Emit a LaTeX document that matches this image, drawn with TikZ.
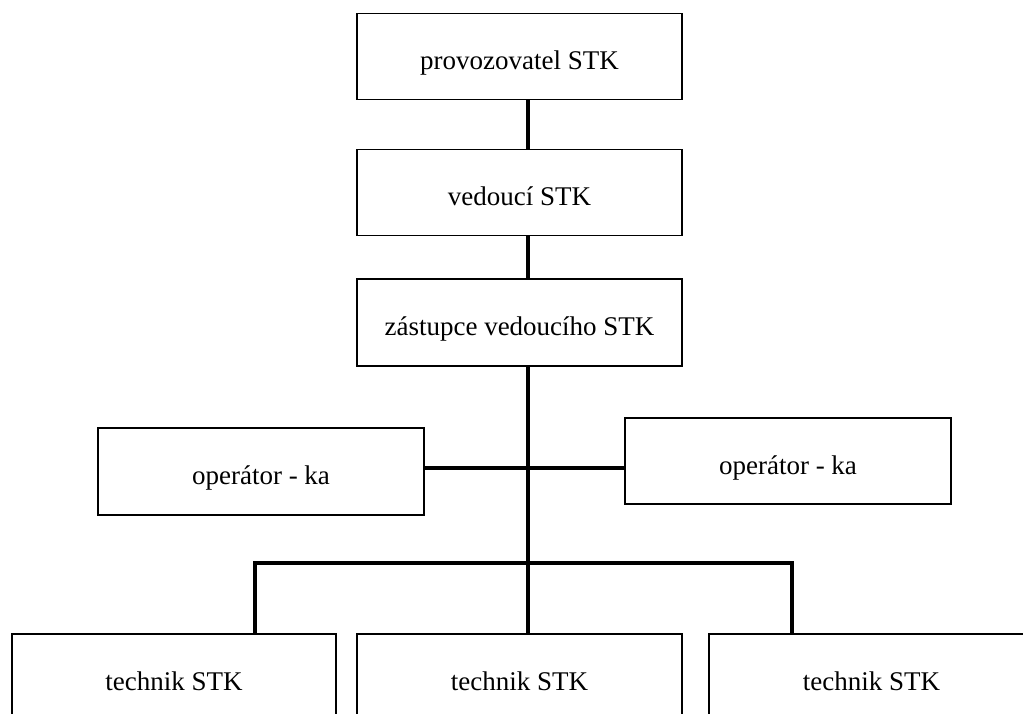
\documentclass[tikz,border=0pt]{standalone}
\usepackage{fontspec}
\setmainfont{Liberation Serif}
\tikzset{box/.style={draw, line width=1.3pt, minimum width=325pt, minimum height=86pt,
    inner sep=0pt, text height=26pt, text depth=0pt, font=\fontsize{27}{31}\selectfont}}
\tikzset{link/.style={line width=3.6pt}}

\begin{document}
\begin{tikzpicture}[x=1pt, y=-1pt]

  \clip (0, 0) rectangle (1023, 713);

  \newcommand\XS{528};
  \newcommand\YBAR{468};
  \newcommand\YFORK{563};

  % chain at the top
  \node[box] (prov) at (519.5, 56.5) {provozovatel STK};
  \node[box] (ved)  at (519.5, 192.5) {vedouc\'i STK};
  \node[box, minimum height=87pt] (zast) at (519.5, 322.5) {z\'astupce vedouc\'iho STK};

  % side boxes
  \node[box, minimum width=326pt, minimum height=87pt] (opL) at (261, 471.5) {oper\'ator - ka};
  \node[box, minimum width=326pt] (opR) at (788, 461) {oper\'ator - ka};

  % bottom row
  \node[box, minimum width=324pt] (tech1) at (174, 677) {technik STK};
  \node[box] (tech2) at (519.5, 677) {technik STK};
  \node[box] (tech3) at (871.5, 677) {technik STK};

  \coordinate (spine) at (\XS, 0);
  \coordinate (bar)   at (0, \YBAR);
  \coordinate (fork)  at (\XS, \YFORK);
  \coordinate (lleg)  at (255, 0);
  \coordinate (rleg)  at (792, 0);

  \draw[link] (prov.south -| spine) -- (ved.north -| spine);
  \draw[link] (ved.south -| spine) -- (zast.north -| spine);
  \draw[link] (zast.south -| spine) -- (tech2.north -| spine);
  \draw[link] (opL.east |- bar) -- (opR.west |- bar);
  \draw[link] (tech1.north -| lleg) |- (fork) -| (tech3.north -| rleg);

\end{tikzpicture}
\end{document}
